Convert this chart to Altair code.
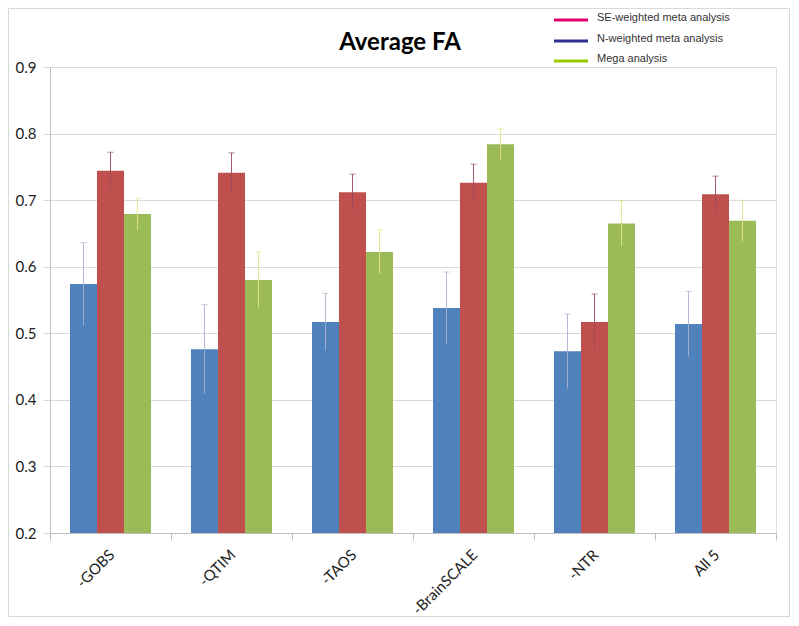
import altair as alt
import pandas as pd

categories = ["-GOBS", "-QTIM", "-TAOS", "-BrainSCALE", "-NTR", "All 5"]
series_names = ["SE-weighted meta analysis", "N-weighted meta analysis", "Mega analysis"]
blue_vals = [0.574, 0.476, 0.517, 0.538, 0.473, 0.514]
blue_err = [0.062, 0.067, 0.043, 0.054, 0.056, 0.049]
red_vals = [0.744, 0.741, 0.712, 0.726, 0.517, 0.709]
red_err = [0.028, 0.030, 0.027, 0.028, 0.042, 0.027]
green_vals = [0.679, 0.580, 0.622, 0.784, 0.665, 0.669]
green_err = [0.024, 0.042, 0.033, 0.023, 0.034, 0.031]
title_text = "Average FA"

bar_colors = ["#4F81BD", "#C0504D", "#9BBB59"]
err_colors = ["#aab3cc", "#9a4a5c", "#e3e38a"]
legend_colors = ["#e6006e", "#2e3192", "#99cc00"]

rows = []
for s, vals, errs in zip(series_names, [blue_vals, red_vals, green_vals], [blue_err, red_err, green_err]):
    for c, v, e in zip(categories, vals, errs):
        rows.append({"cat": c, "series": s, "value": v, "lo": v - e, "hi": v + e})
df = pd.DataFrame(rows)

W, H = 726, 466

xenc = alt.X("cat:N", sort=categories, title=None,
             scale=alt.Scale(paddingInner=0, paddingOuter=0),
             axis=alt.Axis(labelAngle=-45, labelFontSize=15, labelFont="Lato",
                           labelColor="#222", tickBand="extent", tickSize=7,
                           tickColor="#bfbfbf", domainColor="#bfbfbf", labelPadding=7,
                           labelOffset=-4, grid=False, zindex=1))
xoff = alt.XOffset("series:N", sort=series_names,
                   scale=alt.Scale(paddingInner=0, paddingOuter=0.74))
yscale = alt.Scale(domain=[0.2, 0.9], nice=False, zero=False)

base = alt.Chart(df)

bars = base.mark_bar(size=27).encode(
    x=xenc, xOffset=xoff,
    y=alt.Y("value:Q", scale=yscale, title=None,
            axis=alt.Axis(values=[0.2, 0.3, 0.4, 0.5, 0.6, 0.7, 0.8, 0.9], format=".1f",
                          labelFontSize=15, labelFont="Lato", labelColor="#222",
                          tickSize=7, tickColor="#d9d9d9", domainColor="#bfbfbf",
                          gridColor="#d9d9d9", labelPadding=7)),
    y2=alt.datum(0.2),
    color=alt.Color("series:N", sort=series_names,
                    scale=alt.Scale(domain=series_names, range=bar_colors), legend=None),
)

errs = base.mark_rule(strokeWidth=1, opacity=0.9).encode(
    x=alt.X("cat:N", sort=categories), xOffset=xoff,
    y=alt.Y("lo:Q", scale=yscale), y2="hi:Q",
    color=alt.Color("series:N", sort=series_names,
                    scale=alt.Scale(domain=series_names, range=err_colors), legend=None),
)
caps = base.mark_tick(size=6, thickness=1).encode(
    x=alt.X("cat:N", sort=categories), xOffset=xoff,
    y=alt.Y("hi:Q", scale=yscale),
    color=alt.Color("series:N", sort=series_names,
                    scale=alt.Scale(domain=series_names, range=err_colors), legend=None),
)

one = pd.DataFrame({"t": [title_text]})
border = alt.Chart(one).mark_rect(
    fill=None, stroke="#d9d9d9", strokeWidth=1).encode(
    x=alt.value(-41.5), x2=alt.value(739.5), y=alt.value(-58.5), y2=alt.value(549.5))

title = alt.Chart(one).mark_text(
    font="Lato", fontSize=24, fontWeight="bold", color="#000",
    align="center", baseline="alphabetic").encode(
    x=alt.value(350), y=alt.value(-17), text="t:N")

legend_layers = []
leg_y = [-47, -26, -6]
for name, col, yy in zip(series_names, legend_colors, leg_y):
    d = pd.DataFrame({"name": [name]})
    legend_layers.append(alt.Chart(d).mark_rule(color=col, strokeWidth=3).encode(
        x=alt.value(504), x2=alt.value(538), y=alt.value(yy)))
    legend_layers.append(alt.Chart(d).mark_text(
        align="left", baseline="middle", font="Liberation Sans", fontSize=11,
        color="#333").encode(x=alt.value(547), y=alt.value(yy - 2), text="name:N"))

chart = alt.layer(border, bars, errs, caps, title, *legend_layers).resolve_scale(
    color="independent"
).properties(
    width=W, height=H,
    autosize=alt.AutoSizeParams(type="none"),
    padding={"left": 42, "top": 59, "right": 14, "bottom": 92},
).configure_view(stroke=None).configure(background="white")

chart.save("out.html", embed_options={"renderer": "svg", "actions": False})
